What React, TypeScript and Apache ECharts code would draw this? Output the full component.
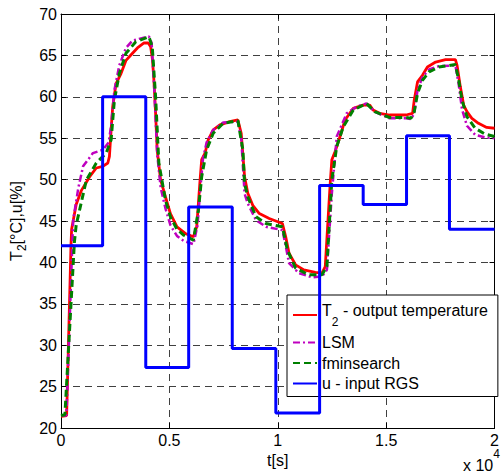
import React, { useEffect, useRef } from 'react';
import * as echarts from 'echarts';

// ---- data (time in seconds, values in degC / %) ----
const tempT = [0, 260, 460, 490, 700, 943, 1322, 1628, 1930, 2160, 2234, 2312, 2385, 2540, 2768, 3000, 3224, 3525, 3830, 4027, 4136, 4220, 4286, 4364, 4437, 4592, 4820, 5048, 5350, 5732, 6000, 6110, 6260, 6415, 6490, 6644, 6794, 7022, 7328, 7784, 8162, 8313, 8468, 8618, 8846, 9150, 9606, 10214, 10366, 10520, 10822, 11204, 11733, 12038, 12190, 12344, 12417, 12494, 12645, 12873, 13101, 13484, 13940, 14243, 14396, 14700, 15155, 15610, 15914, 16219, 16295, 16447, 16675, 16903, 17282, 17738, 18194, 18271, 18422, 18574, 18726, 18954, 19258, 19638, 20000];
const tempV = [21.4, 21.5, 42, 44, 47, 48.7, 50.35, 51.4, 51.6, 52.0, 52.8, 56.0, 58.8, 61.6, 62.8, 64.4, 65.05, 65.9, 66.5, 66.5, 66.05, 64.5, 62.0, 58.0, 53.6, 50.0, 47.9, 45.9, 44.3, 43.5, 43.2, 43.1, 44.3, 49.95, 52.4, 53.2, 54.8, 56.0, 56.6, 57.0, 57.2, 55.6, 50.35, 48.35, 46.9, 45.9, 45.3, 44.7, 43.1, 41.1, 39.7, 39.1, 38.8, 38.7, 39.5, 46.3, 49.5, 52.4, 53.4, 55.2, 57.2, 58.6, 59.0, 59.0, 58.4, 58.0, 57.8, 57.8, 57.8, 58.0, 59.6, 61.8, 62.6, 63.6, 64.2, 64.5, 64.5, 63.8, 61.2, 59.0, 58.2, 57.4, 56.8, 56.3, 56.2];

const lsmT = [0, 250, 520, 561, 800, 1018, 1473, 1930, 2200, 2312, 2463, 2690, 2996, 3300, 3600, 4058, 4180, 4300, 4440, 4600, 4820, 5048, 5350, 5655, 6110, 6300, 6415, 6550, 6718, 7022, 7480, 8162, 8313, 8468, 8618, 8998, 9454, 10214, 10366, 10520, 10976, 11580, 12038, 12266, 12344, 12494, 12720, 13178, 13634, 14090, 14470, 15155, 15914, 16142, 16295, 16447, 16675, 16979, 17434, 18194, 18346, 18498, 18726, 19106, 19562, 20000];
const lsmV = [21.5, 21.5, 42, 45.1, 49, 51.6, 53.2, 53.6, 54.5, 56.5, 60.8, 63.8, 65.9, 66.8, 67.0, 67.3, 66.5, 61, 53, 49, 46.5, 44.5, 43.2, 42.6, 42.2, 44.5, 48.5, 52.5, 54.5, 56.0, 56.9, 57.0, 55.0, 48.3, 47.1, 45.1, 44.3, 43.9, 42.0, 39.9, 38.7, 38.2, 38.3, 39.1, 42.3, 48.3, 55.2, 58.0, 58.8, 59.2, 58.2, 57.4, 57.4, 57.3, 58.0, 60.8, 62.4, 63.3, 63.7, 63.8, 61.5, 58.5, 56.5, 55.4, 55.1, 55.0];

const fminT = [0, 180, 620, 700, 1170, 1628, 2084, 2312, 2463, 2690, 2996, 3452, 4058, 4210, 4364, 4514, 4820, 5048, 5350, 5655, 6110, 6339, 6490, 6718, 7022, 7480, 8162, 8390, 8468, 8618, 8998, 9454, 10214, 10442, 10822, 11433, 12038, 12266, 12344, 12494, 12720, 13025, 13484, 14090, 14470, 15155, 15914, 16142, 16295, 16447, 16675, 16979, 17434, 18194, 18346, 18498, 18726, 19106, 19562, 20000];
const fminV = [21.5, 21.6, 42.5, 44.5, 49.95, 52.0, 53.2, 54.8, 59.6, 62.8, 65.25, 66.65, 67.25, 66.05, 60.0, 52.0, 47.5, 45.5, 44.0, 43.3, 42.7, 46.3, 50.35, 53.6, 55.6, 56.8, 57.1, 53.6, 49.5, 47.9, 45.5, 44.7, 44.3, 41.5, 39.3, 38.5, 38.5, 39.5, 43.1, 49.95, 54.0, 56.4, 58.4, 59.2, 58.2, 57.5, 57.5, 57.4, 58.2, 60.4, 62.0, 63.0, 63.6, 63.9, 62.0, 59.6, 57.6, 56.2, 55.5, 55.2];

// input RGS: value held from each switching time until the next one
const inputT = [0, 1920, 3910, 5890, 7900, 9910, 11930, 13940, 15940, 17920, 20000];
const inputV = [42, 60, 27.3, 46.7, 29.6, 21.8, 49.3, 47.0, 55.3, 44.0, 44.0];

const seriesNames = ['T2 - output temperature', 'LSM', 'fminsearch', 'u - input RGS'];
const xTickLabels = ['0', '0.5', '1', '1.5', '2'];

const FONT = '"Liberation Sans", Arial, Helvetica, sans-serif';

const zip = (t: number[], v: number[]) => t.map((x, i) => [x, v[i]]);

export default function App() {
  const ref = useRef<HTMLDivElement>(null);
  useEffect(() => {
    if (!ref.current) return;
    const chart = echarts.init(ref.current, null, { renderer: 'svg' });
    const gridLine = { show: true, showMinLine: false, showMaxLine: false, lineStyle: { color: '#404040', type: [7, 5] as any, width: 1 } };
    const frameAxis = {
      axisLine: { show: true, onZero: false, lineStyle: { color: '#000', width: 1 } },
      axisTick: { show: true, inside: true, length: 5, lineStyle: { color: '#000' } },
    };
    chart.setOption({
      animation: false,
      backgroundColor: '#fff',
      textStyle: { fontFamily: FONT },
      grid: { left: 61, top: 14, width: 438, height: 414, show: false, containLabel: false },
      xAxis: [
        {
          type: 'value', min: 0, max: 20000, interval: 5000, position: 'bottom',
          ...frameAxis,
          splitLine: gridLine,
          axisLabel: {
            color: '#000', fontSize: 16, fontFamily: FONT, margin: 5, lineHeight: 14,
            formatter: (v: number) => xTickLabels[Math.round(v / 5000)] ?? '',
          },
          name: 't[s]', nameLocation: 'middle', nameGap: 4,
          nameTextStyle: { color: '#000', fontSize: 16, fontFamily: FONT, verticalAlign: 'top' },
        },
        {
          type: 'value', min: 0, max: 20000, interval: 5000, position: 'top',
          ...frameAxis, splitLine: { show: false }, axisLabel: { show: false },
        },
      ],
      yAxis: [
        {
          type: 'value', min: 20, max: 70, interval: 5, position: 'left',
          ...frameAxis,
          splitLine: gridLine,
          axisLabel: { color: '#000', fontSize: 16, fontFamily: FONT, margin: 4 },
          name: '{m|T}{s|2}{m|[°C],u[%]}', nameLocation: 'middle', nameGap: 33, nameRotate: 90,
          nameTextStyle: {
            color: '#000', fontSize: 16, fontFamily: FONT,
            rich: {
              m: { fontSize: 16, fontFamily: FONT, color: '#000' },
              s: { fontSize: 12, fontFamily: FONT, color: '#000', padding: [12, 0, 0, 0] },
            },
          },
        },
        {
          type: 'value', min: 20, max: 70, interval: 5, position: 'right',
          ...frameAxis, splitLine: { show: false }, axisLabel: { show: false },
        },
      ],
      legend: {
        orient: 'vertical', left: 287, top: 295,
        padding: [5, 10, 5, 5], itemGap: 4.5, itemWidth: 24, itemHeight: 14,
        backgroundColor: '#fff', borderColor: '#000', borderWidth: 1, borderRadius: 0,
        itemStyle: { opacity: 0 },
        data: seriesNames,
        formatter: (name: string) =>
          name === seriesNames[0] ? '{m|T}{s|2}{m| - output temperature}' : '{n|' + name + '}',
        textStyle: {
          color: '#000', fontSize: 16, fontFamily: FONT,
          rich: {
            m: { fontSize: 16, fontFamily: FONT, color: '#000', lineHeight: 30, verticalAlign: 'top', padding: [2, 0, 0, 0] },
            s: { fontSize: 12, fontFamily: FONT, color: '#000', lineHeight: 30, verticalAlign: 'bottom', padding: [0, 0, 2, 0] },
            n: { fontSize: 16, fontFamily: FONT, color: '#000', lineHeight: 19 },
          },
        },
      },
      graphic: [
        {
          type: 'text', left: 463, top: 448,
          style: {
            text: '{a|x 10}{b|4}',
            rich: {
              a: { fontSize: 16, fontFamily: FONT, fill: '#000', lineHeight: 25, verticalAlign: 'bottom' },
              b: { fontSize: 12, fontFamily: FONT, fill: '#000', lineHeight: 25, verticalAlign: 'top' },
            },
          },
        },
      ],
      series: [
        { name: seriesNames[0], type: 'line', data: zip(tempT, tempV), symbol: 'none', lineStyle: { color: '#ff0000', width: 2.8 }, itemStyle: { color: '#ff0000' }, z: 3 },
        { name: seriesNames[1], type: 'line', data: zip(lsmT, lsmV), symbol: 'none', lineStyle: { color: '#bf00bf', width: 2.5, type: [7, 3, 2, 3] }, itemStyle: { color: '#bf00bf' }, z: 4 },
        { name: seriesNames[2], type: 'line', data: zip(fminT, fminV), symbol: 'none', lineStyle: { color: '#008000', width: 3, type: [7, 4] }, itemStyle: { color: '#008000' }, z: 5 },
        { name: seriesNames[3], type: 'line', step: 'end', data: zip(inputT, inputV), symbol: 'none', lineStyle: { color: '#0000ff', width: 3 }, itemStyle: { color: '#0000ff' }, z: 6 },
      ],
    });
    return () => chart.dispose();
  }, []);
  return <div ref={ref} style={{ position: 'absolute', left: 0, top: 0, width: 502, height: 475 }} />;
}
